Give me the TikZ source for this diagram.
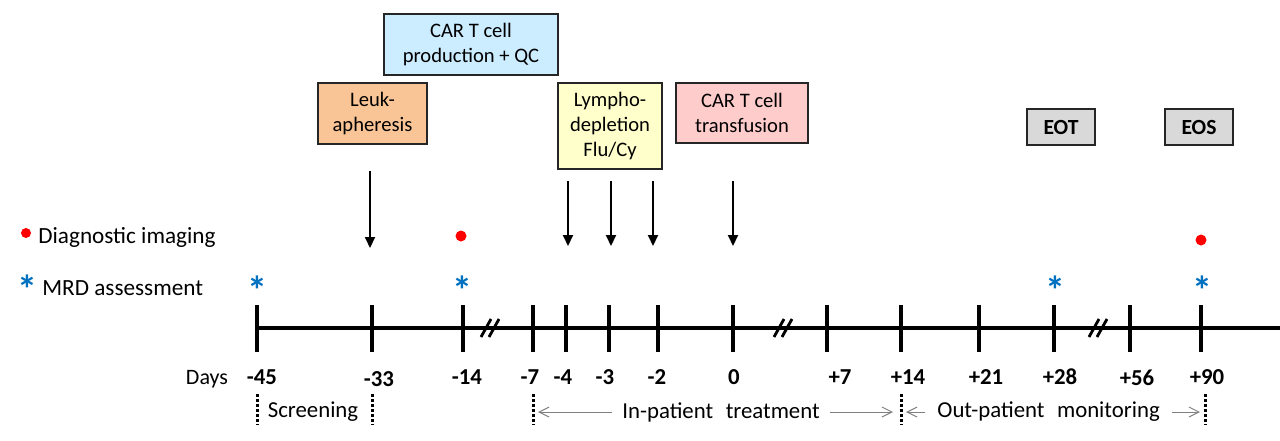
\documentclass[tikz,border=0pt]{standalone}
\usepackage{fontspec}
\setmainfont{Carlito}
\usepackage{xcolor}
\usetikzlibrary{arrows.meta,positioning,calc}
\definecolor{qcblue}{RGB}{204,236,255}
\definecolor{leukorange}{RGB}{250,197,150}
\definecolor{lymphyellow}{RGB}{255,255,204}
\definecolor{infpink}{RGB}{255,204,204}
\definecolor{endgray}{RGB}{217,217,217}
\definecolor{mrdblue}{RGB}{0,112,192}
\newcommand{\boxfont}{\fontsize{10.3}{12.3}\selectfont}
\newcommand{\dayfont}{\fontsize{11.4}{13}\selectfont}

\begin{document}
\begin{tikzpicture}[x=0.5pt,y=-0.5pt,
  stagebox/.style={draw=black!85,line width=0.8pt,align=center,inner sep=0pt,font=\boxfont},
  endbox/.style={stagebox,fill=endgray,font=\fontsize{10.8}{12}\selectfont\bfseries,minimum width=34pt,minimum height=18pt},
  dayarrow/.style={line width=1pt,-{Triangle[length=5.5pt,width=5pt]}},
  tickmark/.style={line width=1.9pt},
  daylabel/.style={anchor=base,inner sep=0pt,font=\dayfont\bfseries},
  phasemark/.style={line width=1.5pt,dash pattern=on 1.4pt off 1.1pt},
  phasearrow/.style={gray,line width=0.5pt,-{Straight Barb[length=5pt,width=5pt]}},
  imgdot/.style={circle,fill=red,inner sep=0pt,minimum size=5.5pt},
  mrdstar/.style={anchor=base,inner sep=0pt,text=mrdblue,font=\fontsize{20}{20}\selectfont\bfseries},
  legendtext/.style={anchor=base west,inner sep=0pt,font=\fontsize{11.6}{14}\selectfont},
  phasetext/.style={inner ysep=0pt,font=\fontsize{11.4}{13}\selectfont}]
  \useasboundingbox (0,0) rectangle (1280,440);
  % stage boxes
  \node[stagebox,fill=qcblue,minimum width=87pt,minimum height=30.5pt] (prod) at (471,44.5) {CAR T cell\\production + QC};
  \node[stagebox,fill=leukorange,minimum width=54.5pt,minimum height=30.5pt] (leuk) at (372.5,113.5) {Leuk-\\apheresis};
  \node[stagebox,fill=lymphyellow,minimum width=52pt,minimum height=43pt] (lympho) at (610,126) {Lympho-\\depletion\\Flu/Cy};
  \node[stagebox,fill=infpink,minimum width=66pt,minimum height=30pt] (transf) at (742,113) {CAR T cell\\transfusion};
  \node[endbox] (eot) at (1061,127) {EOT};
  \node[endbox] (eos) at (1199,127) {EOS};
  % arrows onto the time line
  \coordinate (leukA) at (370,171);  \coordinate (leukB) at (370,248);
  \draw[dayarrow] (leukA) -- (leukB);
  \foreach \ax/\nm in {568/a,611/b,653/c,733/d} {
    \coordinate (top\nm) at (\ax,181); \coordinate (bot\nm) at (\ax,246);
    \draw[dayarrow] (top\nm) -- (bot\nm);
  }
  % legend
  \node[imgdot,minimum size=5pt] (legdot) at (26,233) {};
  \node[legendtext] (legimg) at (38,243) {Diagnostic imaging};
  \node[mrdstar] (legstar) at (27,303) {*};
  \node[legendtext] (legmrd) at (42,295) {MRD assessment};
  % imaging and MRD marks
  \node[imgdot] (img14) at (461,236) {};
  \node[imgdot] (img90) at (1201,240) {};
  \foreach \sx/\nm in {257/m45,462/m14,1055/p28,1202/p90} {
    \node[mrdstar] (mrd\nm) at (\sx,304) {*};
  }
  % time line
  \draw[line width=1.8pt] (257,328) -- (1280,328);
  \foreach \tx/\lx/\ly/\lab/\nm in {257/262/384/-45/m45,372/379/386/-33/m33,463/467/384/-14/m14,
      533/530/384/-7/m7,566/563/384/-4/m4,609/605/384/-3/m3,658/657/384/-2/m2,733/734/384/0/z,
      827/840/384/+7/p7,901/908/384/+14/p14,979/986/384/+21/p21,1054/1060/384/+28/p28,
      1130/1137/385/+56/p56,1201/1207/384/+90/p90} {
    \draw[tickmark] (\tx,305) -- (\tx,352);
    \node[daylabel] (day\nm) at (\lx,\ly) {\lab};
  }
  \node[anchor=base,inner sep=0pt,font=\fontsize{11}{13}\selectfont] (days) at (207,384) {Days};
  % axis breaks
  \foreach \bx in {490,783,1098} {
    \draw[line width=1.4pt] (\bx-9,337) -- (\bx+1,319);
    \draw[line width=1.4pt] (\bx-1,337) -- (\bx+9,319);
  }
  % phases
  \foreach \px/\nm in {257/a,372/b,533/c,901/d,1205/e} {
    \coordinate (ph\nm) at (\px,412);
    \draw[phasemark] (\px,394) -- (\px,425);
  }
  \node[anchor=base,inner sep=0pt,font=\fontsize{11.4}{13}\selectfont] (screen) at (313,417) {Screening};
  \node[phasetext,anchor=west,inner xsep=5pt] (inpat) at (612,412) {In-patient\hspace{0.55em}treatment};
  \node[phasetext,anchor=west,inner xsep=6pt] (outpat) at (925,412) {Out-patient\hspace{0.55em}monitoring};
  \draw[phasearrow,shorten >=2.5pt] (inpat.west) -- (phc);
  \draw[phasearrow,shorten >=4pt] (inpat.east) -- (phd);
  \draw[phasearrow,shorten >=2.5pt] (outpat.west) -- (phd);
  \draw[phasearrow,shorten >=2.5pt] (outpat.east) -- (phe);
\end{tikzpicture}
\end{document}
